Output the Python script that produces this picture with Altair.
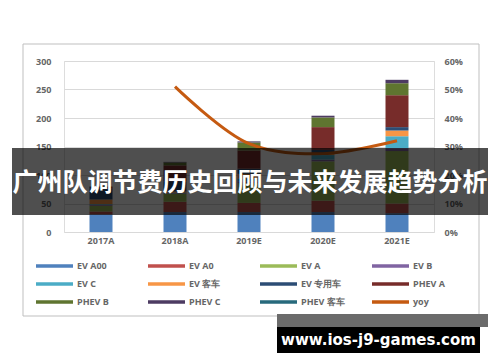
import altair as alt
import pandas as pd

years = ["2017A", "2018A", "2019E", "2020E", "2021E"]
series = ["EV A00", "EV A0", "EV A", "EV B", "EV C", "EV 客车", "EV 专用车",
          "PHEV A", "PHEV B", "PHEV C", "PHEV 客车"]
colors = ["#4F81BD", "#C0504D", "#9BBB59", "#8064A2", "#4BACC6", "#F79646",
          "#2C4D75", "#772C2A", "#5F7530", "#4D3B62", "#276A7C", "#C55A11"]

ev_a00 = [31, 35, 35, 35, 33]
ev_a0 = [5, 18, 16, 20, 17]
ev_a = [10, 14, 35, 69, 92]
ev_b = [2, 1, 3, 3, 5]
ev_c = [1, 1, 5, 8, 21]
ev_bus = [8, 2, 8, 3, 10]
ev_special = [20, 18, 9, 6, 6]
phev_a = [2, 28, 32, 40, 56]
phev_b = [1, 5, 14, 17, 21]
phev_c = [0, 1, 2, 3, 6]
phev_bus = [0, 0, 0, 0, 0]
yoy = [None, 51, 31, 27.5, 32]

title_text = "广州队调节费历史回顾与未来发展趋势分析"
watermark = "www.ios-j9-games.com"

values = [ev_a00, ev_a0, ev_a, ev_b, ev_c, ev_bus, ev_special,
          phev_a, phev_b, phev_c, phev_bus]
rows = []
for i, (name, vals) in enumerate(zip(series, values)):
    for y, v in zip(years, vals):
        rows.append({"year": y, "series": name, "value": v, "idx": i})
df = pd.DataFrame(rows)
df_yoy = pd.DataFrame({"year": years, "yoy": yoy, "series": "yoy"}).dropna()

W, H = 370, 171
FONT = "Open Sans"
GREY = "#666666"

color = alt.Color(
    "series:N",
    scale=alt.Scale(domain=series + ["yoy"], range=colors),
    legend=alt.Legend(
        title=None, orient="none", legendX=-28, legendY=199,
        direction="horizontal",
        columns=4, gridAlign="all", columnPadding=27, rowPadding=6,
        symbolType="M-1,-0.1H1V0.1H-1Z", symbolSize=1369,
        symbolStrokeWidth=0, clipHeight=12, labelOffset=4,
        labelFont=FONT, labelFontSize=9, labelFontWeight="bold",
        labelColor=GREY, padding=0,
    ),
)

xenc = alt.X("year:N", sort=years, title=None,
             scale=alt.Scale(paddingInner=0.69, paddingOuter=0.345),
             axis=alt.Axis(labelAngle=0, domain=False, ticks=False, tickSize=0,
                           labelPadding=4, labelFont=FONT, labelFontSize=9,
                           labelFontWeight="bold", labelColor=GREY))

bars = alt.Chart(df).mark_bar(size=23).encode(
    x=xenc,
    y=alt.Y("value:Q", stack="zero", title=None,
            scale=alt.Scale(domain=[0, 300], nice=False),
            axis=alt.Axis(values=[0, 50, 100, 150, 200, 250, 300], domain=False,
                          ticks=False, tickSize=0, labelPadding=13,
                          gridColor="#D9D9D9", labelFont=FONT, labelFontSize=9,
                          labelFontWeight="bold", labelColor=GREY)),
    color=color,
    order=alt.Order("idx:Q", sort="ascending"),
)

line = alt.Chart(df_yoy).mark_line(interpolate="catmull-rom", strokeWidth=3).encode(
    x=alt.X("year:N", sort=years),
    y=alt.Y("yoy:Q", title=None, scale=alt.Scale(domain=[0, 60], nice=False),
            axis=alt.Axis(orient="right", values=[0, 10, 20, 30, 40, 50, 60],
                          labelExpr="datum.value + '%'", grid=False, domain=False,
                          ticks=False, tickSize=0, labelPadding=10,
                          labelFont=FONT, labelFontSize=9,
                          labelFontWeight="bold", labelColor=GREY)),
    color=color,
)

one = pd.DataFrame({"a": [0]})
frame = alt.Chart(one).mark_rect(fillOpacity=0, stroke="#BFBFBF", strokeWidth=1).encode(
    x=alt.value(-41), x2=alt.value(415), y=alt.value(-17), y2=alt.value(255))
banner = alt.Chart(one).mark_rect(color="#000000", opacity=0.69).encode(
    x=alt.value(-52), x2=alt.value(424), y=alt.value(87), y2=alt.value(154))
banner_text = alt.Chart(one).mark_text(
    text=title_text, font="Noto Sans CJK SC", fontSize=25, fontWeight="bold",
    color="#FFFFFF", align="center", baseline="middle").encode(
    x=alt.value(186), y=alt.value(122))
wm_grey = alt.Chart(one).mark_rect(color="#6B6B6B").encode(
    x=alt.value(213), x2=alt.value(424), y=alt.value(253), y2=alt.value(266))
wm_black = alt.Chart(one).mark_rect(color="#000000").encode(
    x=alt.value(213), x2=alt.value(416), y=alt.value(266), y2=alt.value(292))
wm_text = alt.Chart(one).mark_text(
    text=watermark, font="DejaVu Sans", fontSize=15, fontWeight="bold",
    color="#FFFFFF", align="center", baseline="middle").encode(
    x=alt.value(314.5), y=alt.value(279))

chart = alt.layer(frame, bars, line, banner, banner_text, wm_grey, wm_black, wm_text).resolve_scale(
    y="independent"
).properties(
    width=W, height=H,
    autosize=alt.AutoSizeParams(type="none"),
    padding={"left": 56, "top": 53, "right": 58, "bottom": 122},
).configure_view(stroke=None).configure(background="#FFFFFF")

chart.save("out.html", embed_options={"renderer": "svg", "actions": False})
